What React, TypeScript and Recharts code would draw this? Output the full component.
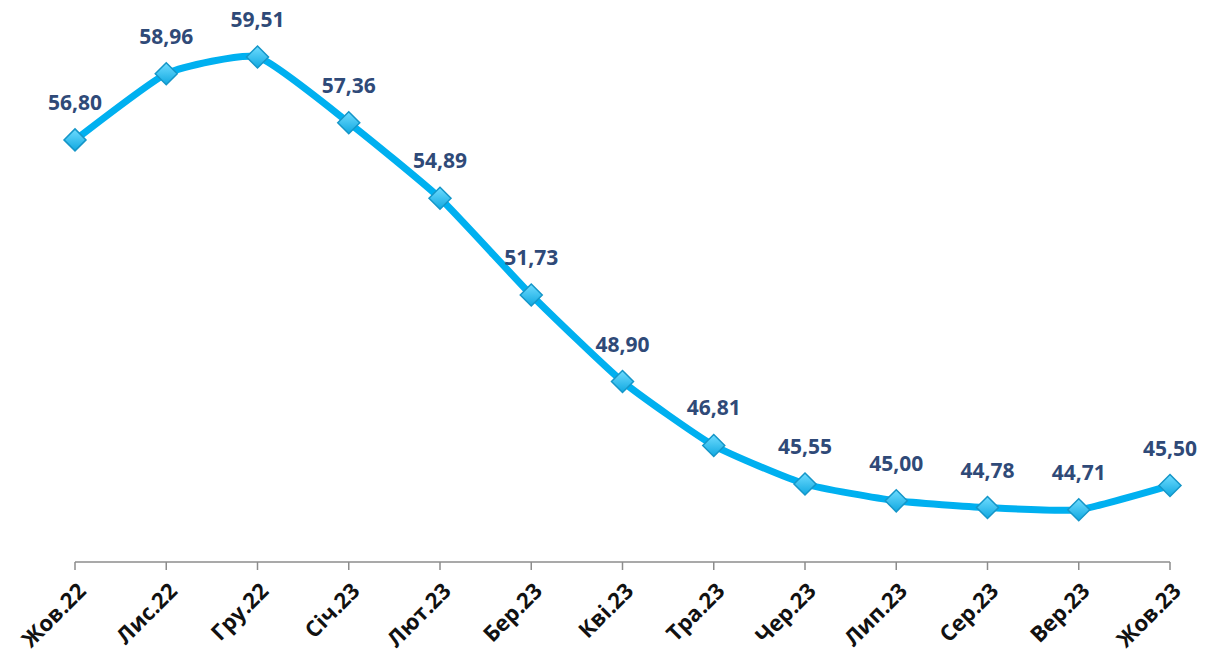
import React from "react";
import { LineChart, Line, XAxis, YAxis, LabelList } from "recharts";

const months = ["Жов.22", "Лис.22", "Гру.22", "Січ.23", "Лют.23", "Бер.23", "Кві.23", "Тра.23", "Чер.23", "Лип.23", "Сер.23", "Вер.23", "Жов.23"];
const values = [56.8, 58.96, 59.51, 57.36, 54.89, 51.73, 48.9, 46.81, 45.55, 45.0, 44.78, 44.71, 45.5];

const data = months.map((m, i) => ({ month: m, value: values[i] }));

const fmt = (v: number) => v.toFixed(2).replace(".", ",");

// lightly smoothed line (similar to Excel's smoothed line)
const smoothCurve = (context: any) => {
  let pts: number[][] = [];
  return {
    areaStart() {},
    areaEnd() {},
    lineStart() {
      pts = [];
    },
    point(x: number, y: number) {
      pts.push([+x, +y]);
    },
    lineEnd() {
      if (!pts.length) return;
      context.moveTo(pts[0][0], pts[0][1]);
      for (let i = 0; i < pts.length - 1; i++) {
        const p0 = pts[i - 1] || pts[i];
        const p1 = pts[i];
        const p2 = pts[i + 1];
        const p3 = pts[i + 2] || pts[i + 1];
        const t = 12;
        context.bezierCurveTo(
          p1[0] + (p2[0] - p0[0]) / t,
          p1[1] + (p2[1] - p0[1]) / t,
          p2[0] - (p3[0] - p1[0]) / t,
          p2[1] - (p3[1] - p1[1]) / t,
          p2[0],
          p2[1]
        );
      }
    },
  };
};

const Diamond = (props: any) => {
  const { cx, cy } = props;
  if (cx == null || cy == null) return null;
  const r = 11;
  return (
    <polygon
      points={`${cx},${cy - r} ${cx + r},${cy} ${cx},${cy + r} ${cx - r},${cy}`}
      fill="url(#dgrad)"
      stroke="#1596c8"
      strokeWidth={1.5}
    />
  );
};

const Tick = (props: any) => {
  const { x, y, payload } = props;
  return (
    <g transform={`translate(${x + 6},${y + 14})`}>
      <text
        transform="rotate(-45)"
        textAnchor="end"
        dominantBaseline="central"
        fontFamily="'Open Sans', sans-serif"
        fontWeight={700}
        fontSize={22}
        fill="#111"
      >
        {payload.value}
      </text>
    </g>
  );
};

const ValueLabel = (props: any) => {
  const { x, y, value } = props;
  return (
    <text
      x={x}
      y={y - 38}
      textAnchor="middle"
      dominantBaseline="central"
      fontFamily="'Open Sans', sans-serif"
      fontWeight={700}
      fontSize={21}
      fill="#2f4a78"
    >
      {fmt(value)}
    </text>
  );
};

export default function App() {
  return (
    <div style={{ position: "absolute", left: 0, top: 0, width: 1216, height: 657, background: "#fff" }}>
      <LineChart width={1216} height={657} data={data} margin={{ top: 42, right: 46, bottom: 0, left: 75 }}>
        <defs>
          <linearGradient id="dgrad" x1="0" y1="0" x2="0" y2="1">
            <stop offset="0%" stopColor="#6fdcff" />
            <stop offset="100%" stopColor="#10a8e0" />
          </linearGradient>
        </defs>
        <XAxis
          dataKey="month"
          height={95}
          axisLine={{ stroke: "#8c8c8c", strokeWidth: 1.5 }}
          tickLine={{ stroke: "#8c8c8c", strokeWidth: 1.5 }}
          tickSize={8}
          interval={0}
          tick={<Tick />}
        />
        <YAxis hide domain={[43, 60]} />
        <Line
          type={smoothCurve as any}
          dataKey="value"
          stroke="#00b0f0"
          strokeWidth={7}
          dot={<Diamond />}
          activeDot={false}
          isAnimationActive={false}
        >
          <LabelList dataKey="value" content={<ValueLabel />} />
        </Line>
      </LineChart>
    </div>
  );
}
